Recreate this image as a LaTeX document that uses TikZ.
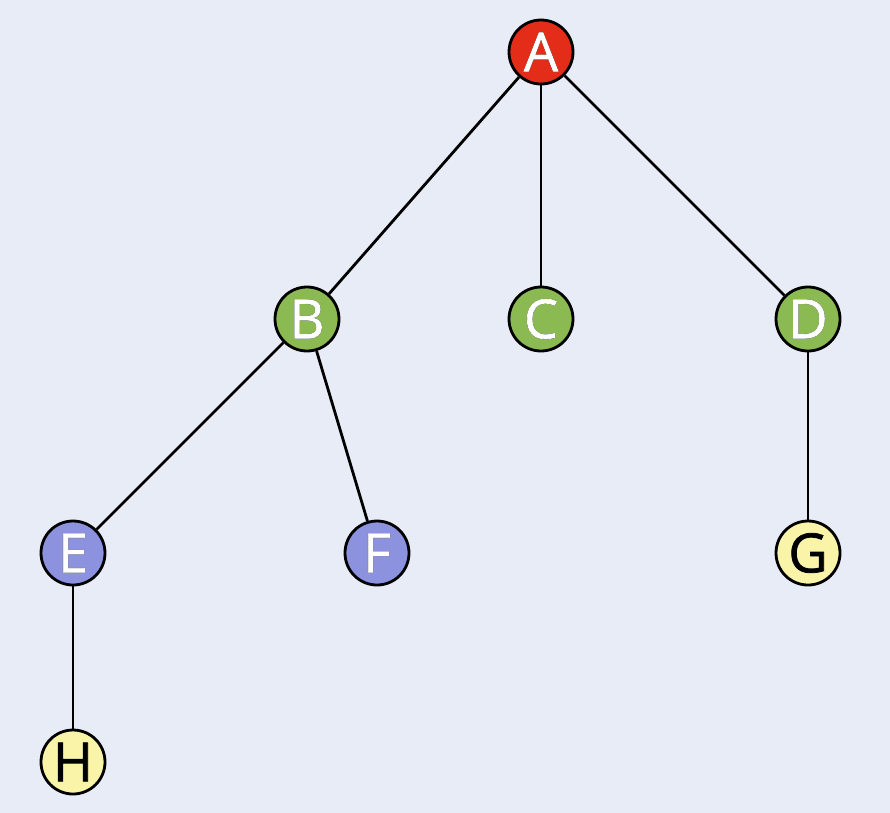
\documentclass[tikz,border=0pt]{standalone}
\usepackage{fontspec}
\setmainfont{Open Sans}
\newfontfamily\lblfont[FakeBold=1.4]{Open Sans}
\usepackage[outline]{contour}
\contourlength{1.6pt}
\definecolor{bgc}{RGB}{232,236,246}
\definecolor{redn}{RGB}{228,45,25}
\definecolor{greenn}{RGB}{140,186,82}
\definecolor{bluen}{RGB}{140,146,222}
\definecolor{yellown}{RGB}{250,244,168}
\tikzset{
  vtx/.style={circle, draw=black, line width=2.8pt, minimum size=64pt, inner sep=0pt,
    font=\lblfont\fontsize{54}{54}\selectfont},
  edge/.style={line width=2.8pt, black}
}
\newcommand{\wl}[1]{\contour{black}{\textcolor{white}{#1}}}
\newcommand{\bl}[1]{\contour{white}{\textcolor{black}{#1}}}
\begin{document}
\begin{tikzpicture}[x=1pt,y=-1pt]
\useasboundingbox (0,0) rectangle (890,812);
\fill[bgc] (-10,-10) rectangle (900,822);
\node[vtx, fill=redn] (A) at (541,52) {\wl{A}};
\node[vtx, fill=greenn] (B) at (307,319) {\wl{B}};
\node[vtx, fill=greenn] (C) at (541,319) {\wl{C}};
\node[vtx, fill=greenn] (D) at (808,319) {\wl{D}};
\node[vtx, fill=bluen] (E) at (73,553) {\wl{E}};
\node[vtx, fill=bluen] (F) at (377,553) {\wl{F}};
\node[vtx, fill=yellown] (G) at (808,553) {\bl{G}};
\node[vtx, fill=yellown] (H) at (73,762) {\bl{H}};
\draw[edge] (A) -- (B);
\draw[edge] (A) -- (C);
\draw[edge] (A) -- (D);
\draw[edge] (B) -- (E);
\draw[edge] (B) -- (F);
\draw[edge] (D) -- (G);
\draw[edge] (E) -- (H);
\end{tikzpicture}
\end{document}
